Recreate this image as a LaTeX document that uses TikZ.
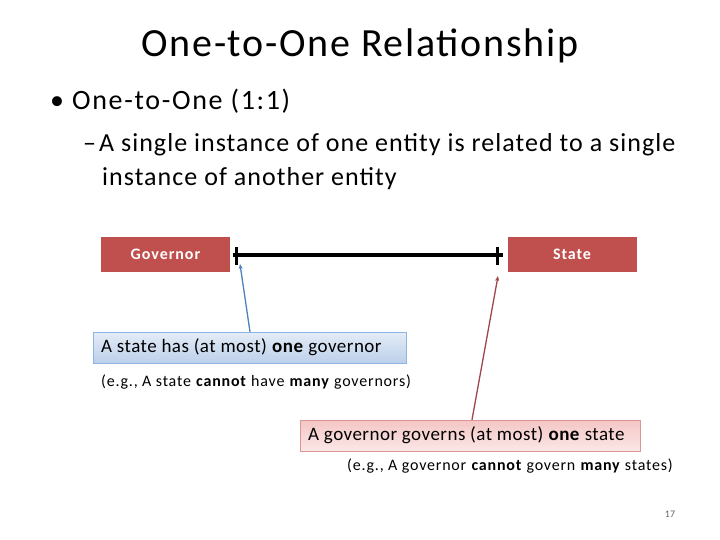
\documentclass[tikz,border=0pt]{standalone}
\usepackage{fontspec}
\setmainfont{Carlito}
\usetikzlibrary{arrows.meta}
\definecolor{boxred}{HTML}{C0504D}
\definecolor{blueedge}{HTML}{8EB4E3}
\definecolor{bluetop}{HTML}{E4ECF7}
\definecolor{bluebot}{HTML}{BCD0EA}
\definecolor{rededge}{HTML}{D99694}
\definecolor{redtop}{HTML}{F4C6C5}
\definecolor{redbot}{HTML}{FBE7E7}
\definecolor{bluearrow}{HTML}{4F81BD}
\definecolor{redarrow}{HTML}{A0464A}
\newcommand\fs[3]{\fontsize{#1}{#2}\selectfont\addfontfeature{LetterSpace=#3}}
\begin{document}
\begin{tikzpicture}[x=1pt,y=-1pt,
  entity/.style={fill=boxred,draw=none,minimum width=129pt,minimum height=35pt,inner sep=0pt,text=white,font=\fs{16}{18}{6}\bfseries},
  callblue/.style={draw=blueedge,top color=bluetop,bottom color=bluebot,minimum height=31pt,inner sep=0pt},
  callred/.style={draw=rededge,top color=redtop,bottom color=redbot,minimum height=31pt,inner sep=0pt},
  calltext/.style={anchor=west,inner sep=0pt,font=\fs{19}{21}{2.5}},
  note/.style={anchor=west,font=\fs{16}{18}{5},inner sep=0pt},
  pointer/.style={line width=1.3pt,-{Stealth[length=5pt,width=4pt]}},
  relline/.style={line width=3.2pt},
  tick/.style={line width=3.5pt}
]
\useasboundingbox (0,0) rectangle (720,540);
\node[font=\fs{40}{44}{4.3}] (title) at (360,46) {One-to-One Relationship};
\node[anchor=west,font=\fs{28}{32}{6},inner sep=0pt] (b1) at (50,101) {•\hspace{8pt}One-to-One (1:1)};
\node[anchor=west,font=\fs{26}{30}{4},inner sep=0pt] (b2a) at (83,145) {–\hspace{3pt}A single instance of one entity is related to a single};
\node[anchor=west,font=\fs{26}{30}{4},inner sep=0pt] (b2b) at (102,179) {instance of another entity};

\node[entity] (gov) at (165.5,254.5) {Governor};
\node[entity] (state) at (572,254.5) {State};

\coordinate (l1) at (233,255);
\coordinate (l2) at (503,255);
\draw[relline] (l1) -- (l2);
\coordinate (t1a) at (236.5,247);
\coordinate (t1b) at (236.5,265);
\coordinate (t2a) at (497.5,247);
\coordinate (t2b) at (497.5,265);
\draw[tick] (t1a) -- (t1b);
\draw[tick] (t2a) -- (t2b);

\node[callblue,minimum width=313pt] (cb) at (249.5,347.5) {};
\node[calltext] (cbt) at (101,347.5) {A state has (at most) \textbf{one} governor};
\node[note] (n1) at (101,382) {(e.g., A state \textbf{cannot} have \textbf{many} governors)};

\node[callred,minimum width=340pt] (cr) at (470,435.5) {};
\node[calltext] (crt) at (308,435.5) {A governor governs (at most) \textbf{one} state};
\node[note] (n2) at (347,466) {(e.g., A governor \textbf{cannot} govern \textbf{many} states)};

\coordinate (pb) at (240,264);
\coordinate (pr) at (498,276);
\draw[pointer,bluearrow] (cb.north -| 250,0) -- (pb);
\draw[pointer,redarrow] (cr.north -| 472,0) -- (pr);

\node[font=\fontsize{10}{12}\selectfont,text=black!60] (pg) at (670,514) {17};
\end{tikzpicture}
\end{document}
